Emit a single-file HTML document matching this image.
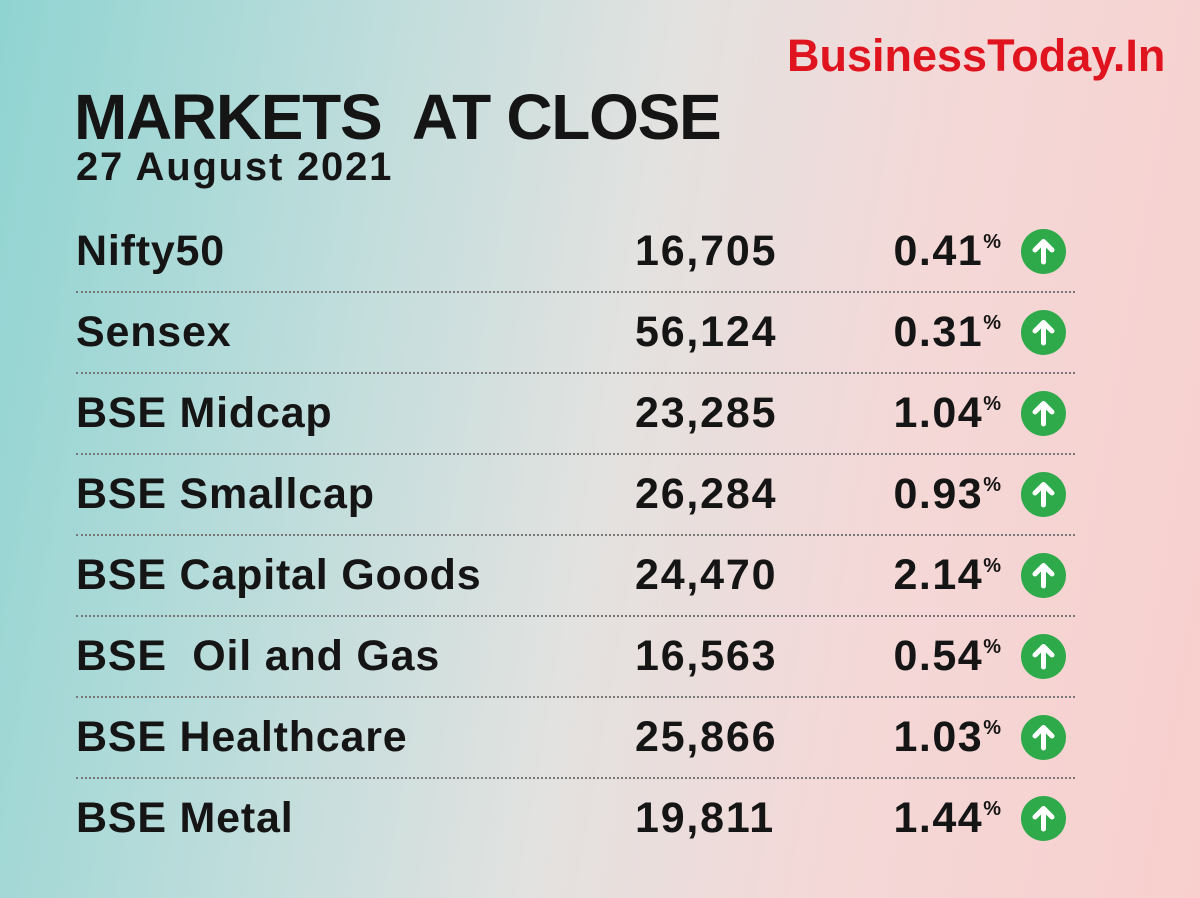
<!DOCTYPE html>
<html><head><meta charset="utf-8"><style>
body{margin:0;width:1200px;height:898px;overflow:hidden;font-family:"Liberation Sans",sans-serif;}
#card{position:relative;width:1200px;height:898px;background:linear-gradient(100deg,#8fd4d1 0%,#b9dcdb 25%,#e2e2e0 50%,#f3d9d8 70%,#f8cfcd 100%);color:#151515;}
.logo{position:absolute;left:787px;top:30px;font-size:45px;font-weight:bold;color:#e0141e;letter-spacing:0px;}
.title{position:absolute;left:74px;top:80px;font-size:64px;font-weight:bold;letter-spacing:-1.3px;}
.date{position:absolute;left:76px;top:145px;font-size:40px;font-weight:bold;letter-spacing:1.8px;}
.row{position:absolute;left:76px;width:999px;height:81px;border-bottom:2px dotted #777;}
.row:last-child{border-bottom:none}
.name,.val,.pct{position:absolute;top:17px;font-size:43px;font-weight:bold;letter-spacing:0.8px;}
.name{left:0}
.val{left:559px;letter-spacing:1.8px}
.pct{right:74px;letter-spacing:1.5px}
.pct sup{font-size:20px;vertical-align:top;position:relative;top:4px;letter-spacing:0}
.up{position:absolute;left:945px;top:19px;width:45px;height:45px;border-radius:50%;background:#2eaa4a;}
</style></head><body>
<div id="card">
<div class="logo">BusinessToday.In</div>
<div class="title">MARKETS&nbsp; AT CLOSE</div>
<div class="date">27 August 2021</div>
<div id="rows"></div>
</div>
<script>
const names=["Nifty50","Sensex","BSE Midcap","BSE Smallcap","BSE Capital Goods","BSE\u00a0 Oil and Gas","BSE Healthcare","BSE Metal"];
const values=["16,705","56,124","23,285","26,284","24,470","16,563","25,866","19,811"];
const changes=["0.41","0.31","1.04","0.93","2.14","0.54","1.03","1.44"];
const rows=document.getElementById('rows');
names.forEach((n,i)=>{
 const r=document.createElement('div');r.className='row';r.style.top=(210+i*81)+'px';
 
 
 const a=document.createElement('div');a.className='name';a.textContent=n;
 
 
 const b=document.createElement('div');b.className='val';b.textContent=values[i];
 
 
 const c=document.createElement('div');c.className='pct';c.innerHTML=changes[i]+'<sup>%</sup>';
 
 
 const u=document.createElement('div');u.className='up';
 u.innerHTML='<svg width="45" height="45" viewBox="0 0 45 45"><path d="M22.5 33V13M14 21l8.5-8.5L31 21" stroke="#fff" stroke-width="5" fill="none" stroke-linecap="round" stroke-linejoin="round"/></svg>';
 
 
 r.append(a,b,c,u);rows.appendChild(r);
});
</script>
</body></html>
